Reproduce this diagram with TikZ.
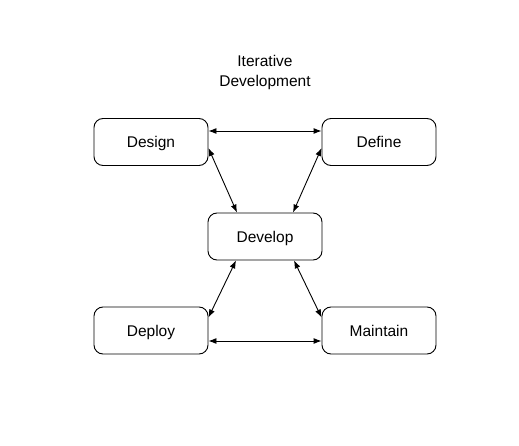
\documentclass[tikz,border=0pt]{standalone}
\usepackage{fontspec}
\setmainfont{Liberation Sans}
\usepackage{tikz}
\usetikzlibrary{arrows.meta}
\tikzset{
  stage/.style={draw, rounded corners=9pt, minimum width=114pt, minimum height=47pt, text height=2.3ex, text depth=0.2ex, line width=0.9pt, font=\fontsize{15.5}{18}\selectfont},
  link/.style={{Latex[length=8pt,width=6pt]}-{Latex[length=8pt,width=6pt]}, line width=0.9pt}
}

\begin{document}
\begin{tikzpicture}[x=1pt, y=1pt]
  \useasboundingbox (0, 0) rectangle (519, 445);
  \node[align=center, font=\fontsize{15.5}{20}\selectfont] (title) at (265, 373) {Iterative\\Development};
  \node[stage] (design) at (151, 303) {Design};
  \node[stage] (define) at (379, 303) {Define};
  \node[stage] (develop) at (265, 208.5) {Develop};
  \node[stage] (deploy) at (151, 114.5) {Deploy};
  \node[stage] (maintain) at (379, 114.5) {Maintain};
  \draw[link] ([yshift=11pt]design.east) -- ([yshift=11pt]define.west);
  \draw[link] ([yshift=-6pt]design.east) -- ([xshift=-28pt]develop.north);
  \draw[link] ([yshift=-6pt]define.west) -- ([xshift=28pt]develop.north);
  \draw[link] ([xshift=-29pt]develop.south) -- ([yshift=13pt]deploy.east);
  \draw[link] ([xshift=29pt]develop.south) -- ([yshift=13pt]maintain.west);
  \draw[link] ([yshift=-10.5pt]deploy.east) -- ([yshift=-10.5pt]maintain.west);
\end{tikzpicture}
\end{document}
